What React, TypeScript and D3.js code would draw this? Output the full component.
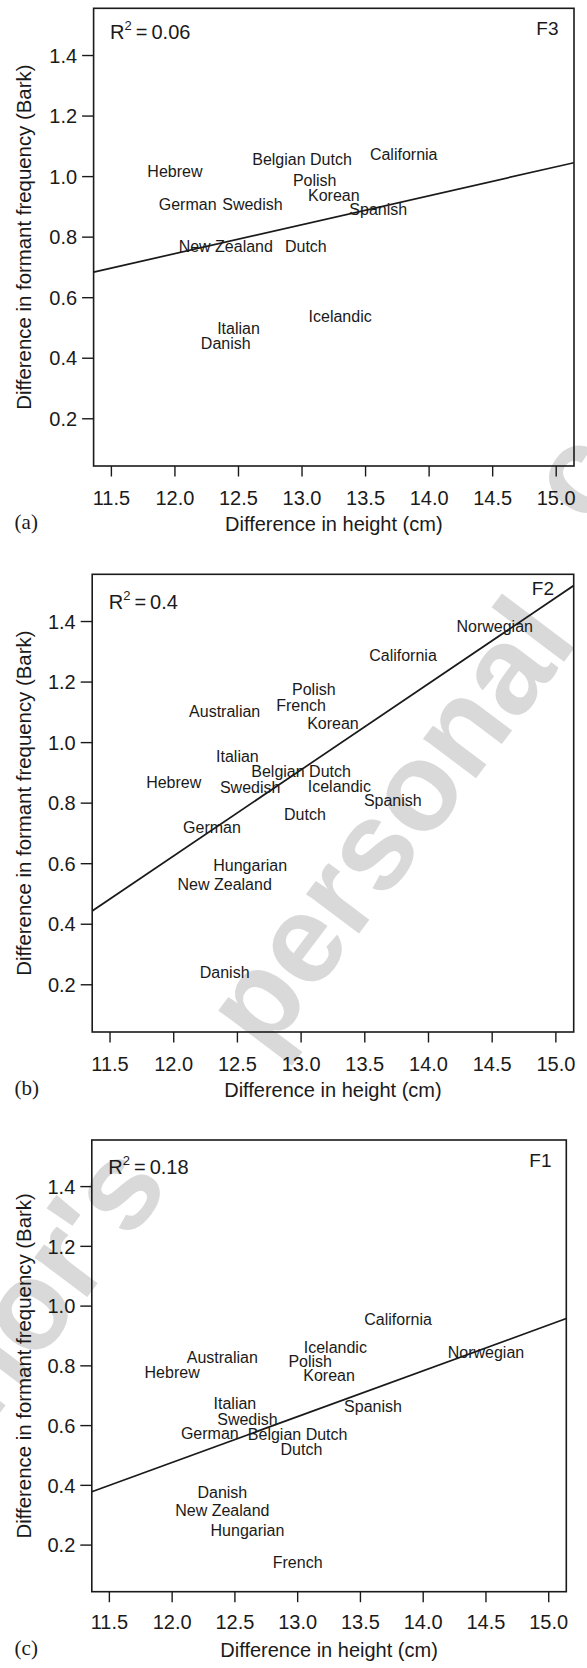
import React from "react";
import * as d3 from "d3";

// ---------- data ----------
const xTicks = [11.5, 12.0, 12.5, 13.0, 13.5, 14.0, 14.5, 15.0];
const yTicks = [0.2, 0.4, 0.6, 0.8, 1.0, 1.2, 1.4];
const xDomain = [11.36, 15.14];
const yDomain = [0.044, 1.556];

// Panel (a) F3
const f3Labels = ["Hebrew", "Belgian Dutch", "California", "Polish", "Korean", "German", "Swedish", "Spanish", "New Zealand", "Dutch", "Icelandic", "Italian", "Danish"];
const f3Height = [12.0, 13.0, 13.8, 13.1, 13.25, 12.1, 12.61, 13.6, 12.4, 13.03, 13.3, 12.5, 12.4];
const f3Diff = [1.017, 1.056, 1.073, 0.988, 0.939, 0.909, 0.909, 0.891, 0.77, 0.77, 0.539, 0.5, 0.45];

// Panel (b) F2
const f2Labels = ["Norwegian", "California", "Polish", "French", "Australian", "Korean", "Italian", "Belgian Dutch", "Hebrew", "Swedish", "Icelandic", "Spanish", "Dutch", "German", "Hungarian", "New Zealand", "Danish"];
const f2Height = [14.52, 13.8, 13.1, 13.0, 12.4, 13.25, 12.5, 13.0, 12.0, 12.6, 13.3, 13.72, 13.03, 12.3, 12.6, 12.4, 12.4];
const f2Diff = [1.386, 1.287, 1.175, 1.122, 1.105, 1.065, 0.954, 0.905, 0.868, 0.851, 0.856, 0.811, 0.765, 0.721, 0.594, 0.531, 0.241];

// Panel (c) F1
const f1Labels = ["California", "Icelandic", "Norwegian", "Australian", "Polish", "Hebrew", "Korean", "Italian", "Spanish", "Swedish", "German", "Belgian Dutch", "Dutch", "Danish", "New Zealand", "Hungarian", "French"];
const f1Height = [13.8, 13.3, 14.5, 12.4, 13.1, 12.0, 13.25, 12.5, 13.6, 12.6, 12.3, 13.0, 13.03, 12.4, 12.4, 12.6, 13.0];
const f1Diff = [0.955, 0.863, 0.845, 0.828, 0.816, 0.779, 0.769, 0.674, 0.665, 0.622, 0.573, 0.571, 0.522, 0.378, 0.317, 0.25, 0.144];

// regression lines: [intercept, slope]
const fitIntercepts = [-0.4015, -2.787, -1.364];
const fitSlopes = [0.0956, 0.2844, 0.1534];
const r2Values = ["0.06", "0.4", "0.18"];
const formantNames = ["F3", "F2", "F1"];
const panelLetters = ["(a)", "(b)", "(c)"];

const xTitle = "Difference in height (cm)";
const yTitle = "Difference in formant frequency (Bark)";

// ---------- layout ----------
const panels = [
  { labels: f3Labels, xs: f3Height, ys: f3Diff, left: 93.6, right: 574, top: 8.3, bottom: 466, r2Dy: 30.5, fDy: 27, fRight: 558.5, tickLabDy: 39 },
  { labels: f2Labels, xs: f2Height, ys: f2Diff, left: 92.2, right: 573.7, top: 574.3, bottom: 1032, r2Dy: 35, fDy: 21, fRight: 554, tickLabDy: 38.7 },
  { labels: f1Labels, xs: f1Height, ys: f1Diff, left: 91.8, right: 566.3, top: 1140, bottom: 1591.7, r2Dy: 34, fDy: 26.7, fRight: 551.5, tickLabDy: 37 },
];

const SANS = "'Liberation Sans', Arial, Helvetica, sans-serif";
const SERIF = "'Liberation Serif', 'Times New Roman', serif";
const INK = "#1a1a1a";

function Panel({ p, i }: { p: any; i: number }) {
  const x = d3.scaleLinear().domain(xDomain).range([p.left, p.right]);
  const y = d3.scaleLinear().domain(yDomain).range([p.bottom, p.top]);
  const line = d3
    .line<number>()
    .x((d) => x(d))
    .y((d) => y(fitIntercepts[i] + fitSlopes[i] * d));
  const clipId = `clip-${i}`;
  const midY = (p.top + p.bottom) / 2;
  const midX = (p.left + p.right) / 2;
  return (
    <g>
      <defs>
        <clipPath id={clipId}>
          <rect x={p.left} y={p.top} width={p.right - p.left} height={p.bottom - p.top} />
        </clipPath>
      </defs>
      {/* regression line */}
      <path d={line(xDomain) || ""} stroke={INK} strokeWidth={1.7} fill="none" clipPath={`url(#${clipId})`} />
      {/* labels */}
      {p.labels.map((lab: string, k: number) => (
        <text key={k} x={x(p.xs[k])} y={y(p.ys[k])} dy="0.36em" textAnchor="middle" fontFamily={SANS} fontSize={16} fill={INK}>
          {lab}
        </text>
      ))}
      {/* box */}
      <rect x={p.left} y={p.top} width={p.right - p.left} height={p.bottom - p.top} fill="none" stroke={INK} strokeWidth={1.6} />
      {/* x axis ticks */}
      {xTicks.map((t) => (
        <g key={"x" + t}>
          <line x1={x(t)} x2={x(t)} y1={p.bottom} y2={p.bottom + 10.5} stroke={INK} strokeWidth={1.4} />
          <text x={x(t)} y={p.bottom + p.tickLabDy} textAnchor="middle" fontFamily={SANS} fontSize={20} fill={INK}>
            {t.toFixed(1)}
          </text>
        </g>
      ))}
      {/* y axis ticks */}
      {yTicks.map((t) => (
        <g key={"y" + t}>
          <line x1={p.left - 11.5} x2={p.left} y1={y(t)} y2={y(t)} stroke={INK} strokeWidth={1.4} />
          <text x={p.left - 16.5} y={y(t)} dy="0.36em" textAnchor="end" fontFamily={SANS} fontSize={20} fill={INK}>
            {t.toFixed(1)}
          </text>
        </g>
      ))}
      {/* R^2 */}
      <text x={p.left + 16.5} y={p.top + p.r2Dy} fontFamily={SANS} fontSize={20} fill={INK}>
        R
        <tspan fontSize={13} dy={-9}>2</tspan>
        <tspan dy={9} dx={4}>=</tspan>
        <tspan dx={4}>{r2Values[i]}</tspan>
      </text>
      {/* formant */}
      <text x={p.fRight} y={p.top + p.fDy} textAnchor="end" fontFamily={SANS} fontSize={19} fill={INK}>
        {formantNames[i]}
      </text>
      {/* axis titles */}
      <text x={midX} y={p.bottom + 65} textAnchor="middle" fontFamily={SANS} fontSize={20} fill={INK}>
        {xTitle}
      </text>
      <text transform={`translate(23.5,${midY}) rotate(-90)`} dy="0.36em" textAnchor="middle" fontFamily={SANS} fontSize={20.4} fill={INK}>
        {yTitle}
      </text>
      <text x={14.6} y={p.bottom + 63} fontFamily={SERIF} fontSize={21} fill={INK}>
        {panelLetters[i]}
      </text>
    </g>
  );
}

export default function App() {
  return (
    <svg
      width={587}
      height={1668}
      viewBox="0 0 587 1668"
      style={{ position: "absolute", left: 0, top: 0, display: "block", background: "#fff" }}
    >
      <rect x={0} y={0} width={587} height={1668} fill="#fff" />
      {/* watermark */}
      <g fill="#d9d9d9" fontFamily={SANS} fontWeight="bold" fontSize={125}>
        <text transform="translate(171,1186) rotate(-53)" textAnchor="end">Author's</text>
        <text transform="translate(266,1057) rotate(-53)" textAnchor="start">personal</text>
        <text transform="translate(588,528) rotate(-53)" textAnchor="start">copy</text>
      </g>
      {panels.map((p, i) => (
        <Panel key={i} p={p} i={i} />
      ))}
    </svg>
  );
}
